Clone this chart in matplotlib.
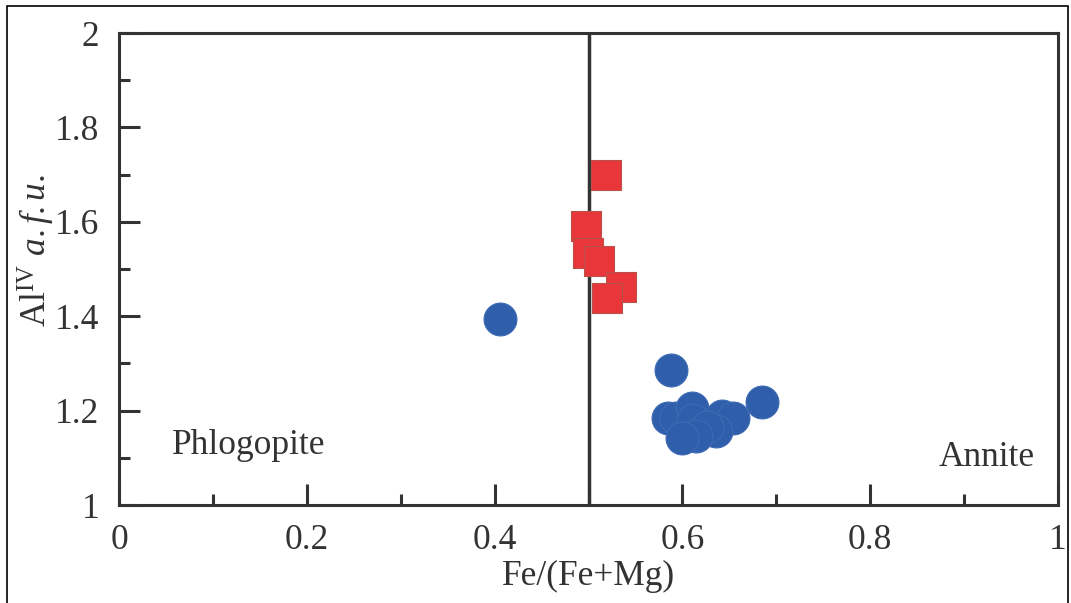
import numpy as np
import matplotlib
matplotlib.use("Agg")
import matplotlib.pyplot as plt
from matplotlib.patches import Rectangle

plt.rcParams['font.family'] = ['Liberation Serif', 'DejaVu Serif']
plt.rcParams['mathtext.fontset'] = 'custom'
plt.rcParams['mathtext.rm'] = 'Liberation Serif'
plt.rcParams['mathtext.it'] = 'Liberation Serif:italic'

# red squares
sq_x = [0.519, 0.497, 0.499, 0.511, 0.535, 0.520]
sq_y = [1.699, 1.591, 1.534, 1.517, 1.462, 1.439]

# blue circles
ci_x = [0.406, 0.588, 0.685, 0.585, 0.593, 0.610, 0.611, 0.642, 0.654, 0.636, 0.626, 0.615, 0.600]
ci_y = [1.394, 1.286, 1.218, 1.184, 1.184, 1.206, 1.180, 1.188, 1.184, 1.157, 1.166, 1.146, 1.141]

dark = '#333333'
fs = 25.5

fig = plt.figure(figsize=(10.71, 6.03), dpi=100)
ax = fig.add_axes([119/1071, 1-505/603, 939/1071, 472/603])

ax.scatter(ci_x, ci_y, s=560, marker='o', color='#2f5fab', edgecolors='#3d6ab5', linewidths=0.8, zorder=3)
ax.scatter(sq_x, sq_y, s=440, marker='s', color='#e8363a', edgecolors='#b8524a', linewidths=0.8, zorder=4)

ax.axvline(0.5, color=dark, lw=2.5, zorder=2)

ax.set_xlim(0, 1)
ax.set_ylim(1, 2)
ax.set_xticks([0, 0.2, 0.4, 0.6, 0.8, 1])
ax.set_xticklabels(['0', '0.2', '0.4', '0.6', '0.8', '1'])
ax.set_yticks([1, 1.2, 1.4, 1.6, 1.8, 2])
ax.set_yticklabels(['1', '1.2', '1.4', '1.6', '1.8', '2'])
ax.set_xticks(np.arange(0.1, 1.0, 0.2), minor=True)
ax.set_yticks(np.arange(1.1, 2.0, 0.2), minor=True)
ax.tick_params(which='major', direction='in', length=15, width=2.2, color=dark,
               labelsize=fs, labelcolor=dark, pad=14)
ax.tick_params(which='minor', direction='in', length=8, width=2.2, color=dark)
for sp in ax.spines.values():
    sp.set_linewidth(2.2)
    sp.set_color(dark)

ax.set_xlabel('Fe/(Fe+Mg)', fontsize=fs, color=dark, labelpad=2)
ax.set_ylabel(r'Al$^{\rm IV}$ $\it{a.f.u.}$', fontsize=fs, color=dark)
ax.yaxis.set_label_coords(-0.066, 0.54)

ax.text(0.056, 1.127, 'Phlogopite', fontsize=fs, color=dark, va='center', ha='left')
ax.text(0.975, 1.100, 'Annite', fontsize=fs, color=dark, va='center', ha='right')

fig.patches.append(Rectangle((7/1071, -0.05), 1061/1071, 1 - 6/603 + 0.05,
                             transform=fig.transFigure, fill=False, edgecolor='black', lw=1.2))

fig.savefig('out.png', dpi=100)
